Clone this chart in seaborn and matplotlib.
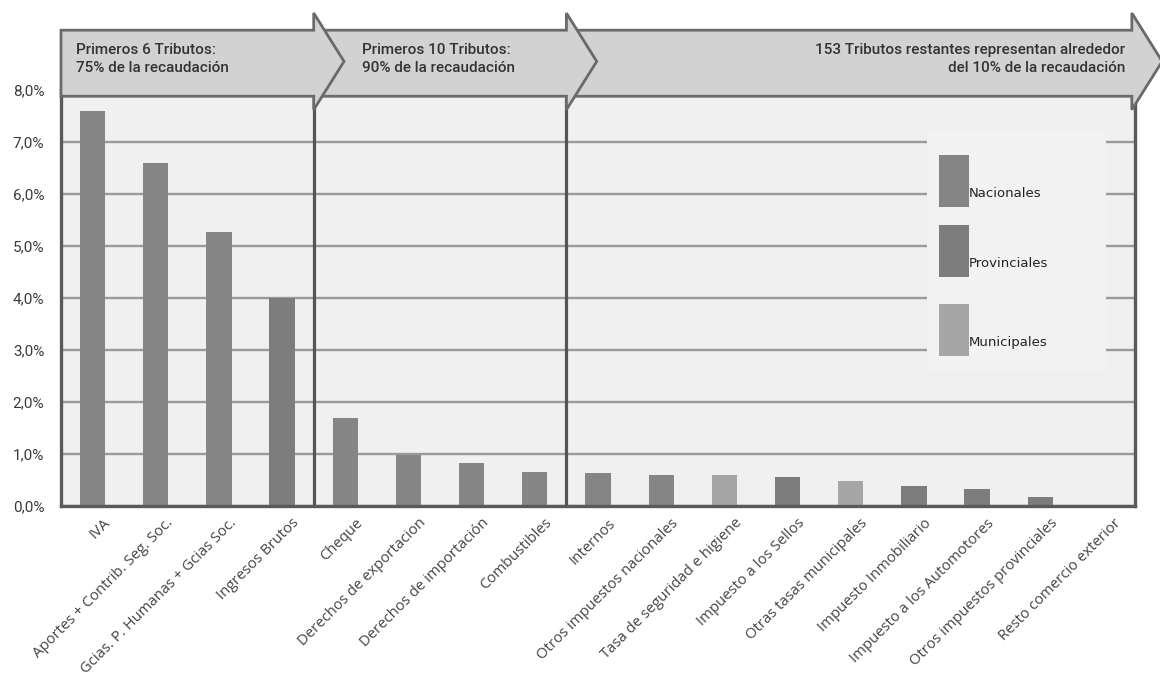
import matplotlib
matplotlib.use("Agg")
import matplotlib.pyplot as plt
import matplotlib.transforms as mtrans
import seaborn as sns
import pandas as pd
from matplotlib.patches import Polygon, Rectangle
from matplotlib.ticker import FuncFormatter, FixedLocator

categorias = [
    "IVA", "Aportes + Contrib. Seg. Soc.", "Gcias. P. Humanas + Gcias Soc.",
    "Ingresos Brutos", "Cheque", "Derechos de exportacion",
    "Derechos de importación", "Combustibles", "Internos",
    "Otros impuestos nacionales", "Tasa de seguridad e higiene",
    "Impuesto a los Sellos", "Otras tasas municipales",
    "Impuesto Inmobiliario", "Impuesto a los Automotores",
    "Otros impuestos provinciales", "Resto comercio exterior",
]
valores = [7.60, 6.60, 5.26, 4.00, 1.69, 0.98, 0.82, 0.65, 0.64,
           0.59, 0.59, 0.56, 0.49, 0.39, 0.32, 0.17, 0.0]
nivel = ["Nacionales", "Nacionales", "Nacionales", "Provinciales",
         "Nacionales", "Nacionales", "Nacionales", "Nacionales",
         "Nacionales", "Nacionales", "Municipales", "Provinciales",
         "Municipales", "Provinciales", "Provinciales", "Provinciales",
         "Nacionales"]
niveles = ["Nacionales", "Provinciales", "Municipales"]
colores = {"Nacionales": "#858585", "Provinciales": "#7d7d7d",
           "Municipales": "#a6a6a6"}
banner_textos = ["Primeros 6 Tributos:\n75% de la recaudación",
                 "Primeros 10 Tributos:\n90% de la recaudación",
                 "153 Tributos restantes representan alrededor\ndel 10% de la recaudación"]
# banner extents in category positions
banner_limites = [(-0.5, 3.5), (3.5, 7.5), (7.5, 16.45)]
divisores = [3.5, 7.5]
yticks = [0, 1, 2, 3, 4, 5, 6, 7, 8]

df = pd.DataFrame({"cat": categorias, "val": valores, "nivel": nivel})

sns.set_theme(style="white")
plt.rcParams["font.family"] = ["Open Sans", "DejaVu Sans"]

fig = plt.figure(figsize=(11.6, 6.82), dpi=100)
ax = fig.add_axes([61/1160, 1-506/682, 1074/1160, 416/682])
ax.set_facecolor("#f0f0f0")

sns.barplot(data=df, x="cat", y="val", hue="nivel", palette=colores,
            dodge=False, width=0.4, legend=False, ax=ax, zorder=3,
            saturation=1, linewidth=0, edgecolor="none")

ax.set_xlim(-0.5, len(categorias) - 0.5)
ax.set_ylim(0, 8)
ax.set_xlabel("")
ax.set_ylabel("")

# grid
ax.yaxis.set_major_locator(FixedLocator(yticks))
ax.yaxis.set_major_formatter(FuncFormatter(lambda v, p: f"{v:.1f}%".replace(".", ",")))
ax.grid(axis="y", color="#999999", lw=1.7, zorder=1)
ax.set_axisbelow(True)

for s in ["left", "right", "bottom"]:
    ax.spines[s].set_color("#5a5a5a")
    ax.spines[s].set_linewidth(2.4)
    ax.spines[s].set_zorder(6)
ax.spines["top"].set_visible(False)

# ticks
ax.xaxis.set_minor_locator(FixedLocator([i - 0.5 for i in range(len(categorias) + 1)]))
ax.tick_params(axis="x", which="major", length=0, pad=6)
ax.tick_params(axis="x", which="minor", length=5, width=1, color="#888888", direction="out")
ax.tick_params(axis="y", length=4, width=1, color="#888888", direction="out",
               labelsize=11, labelcolor="#3a3a3a", pad=8)
for lab in ax.get_yticklabels():
    lab.set_fontfamily(["Roboto", "DejaVu Sans"])

ax.set_xticks(range(len(categorias)))
ax.set_xticklabels(categorias, rotation=45, ha="right", rotation_mode="anchor",
                   fontsize=10.7, color="#444444")
off = mtrans.ScaledTranslation(7/72, -1/72, fig.dpi_scale_trans)
for lab in ax.get_xticklabels():
    lab.set_transform(lab.get_transform() + off)

# vertical dividers
for d in divisores:
    ax.plot([d, d], [0, 7.9], color="#555555", lw=2.3, zorder=5, clip_on=False)

# banners (drawn last-to-first so each head overlaps the next body)
y_bot, y_top = 7.88, 9.15
h_bot, h_top, tip_y = 7.62, 9.48, 8.55
head = 0.48
for i in reversed(range(len(banner_limites))):
    x0, x1 = banner_limites[i]
    pts = [(x0, y_bot), (x0, y_top), (x1, y_top), (x1, h_top),
           (x1 + head, tip_y), (x1, h_bot), (x1, y_bot)]
    poly = Polygon(pts, closed=True, facecolor="#d2d2d2", edgecolor="#6a6a6a",
                   lw=2, zorder=7, clip_on=False, joinstyle="miter")
    ax.add_patch(poly)

txt_kw = dict(fontsize=11, color="#333333", zorder=8, clip_on=False,
              family=["Roboto", "DejaVu Sans"], fontweight="medium",
              va="center", linespacing=1.4)
ax.text(-0.27, 8.6, banner_textos[0], ha="left", **txt_kw)
ax.text(4.26, 8.6, banner_textos[1], ha="left", **txt_kw)
ax.text(16.35, 8.6, banner_textos[2], ha="right", multialignment="right", **txt_kw)

# legend (manual)
ax.add_patch(Rectangle((0.806, 0.327), 0.167, 0.577, transform=ax.transAxes,
                       facecolor="#f2f2f2", edgecolor="none", zorder=4))
ley_y = [(0.7188, 0.7524), (0.5505, 0.5841), (0.3606, 0.3942)]
for nv, (py, ty) in zip(niveles, ley_y):
    ax.add_patch(Rectangle((0.8175, py), 0.0279, 0.125, transform=ax.transAxes,
                           facecolor=colores[nv], edgecolor="none", zorder=5))
    ax.text(0.8454, ty, nv, transform=ax.transAxes, fontsize=9.5, color="#222222",
            va="center", ha="left", zorder=6, family=["DejaVu Sans"])

fig.savefig("out.png", dpi=100, facecolor="white")
